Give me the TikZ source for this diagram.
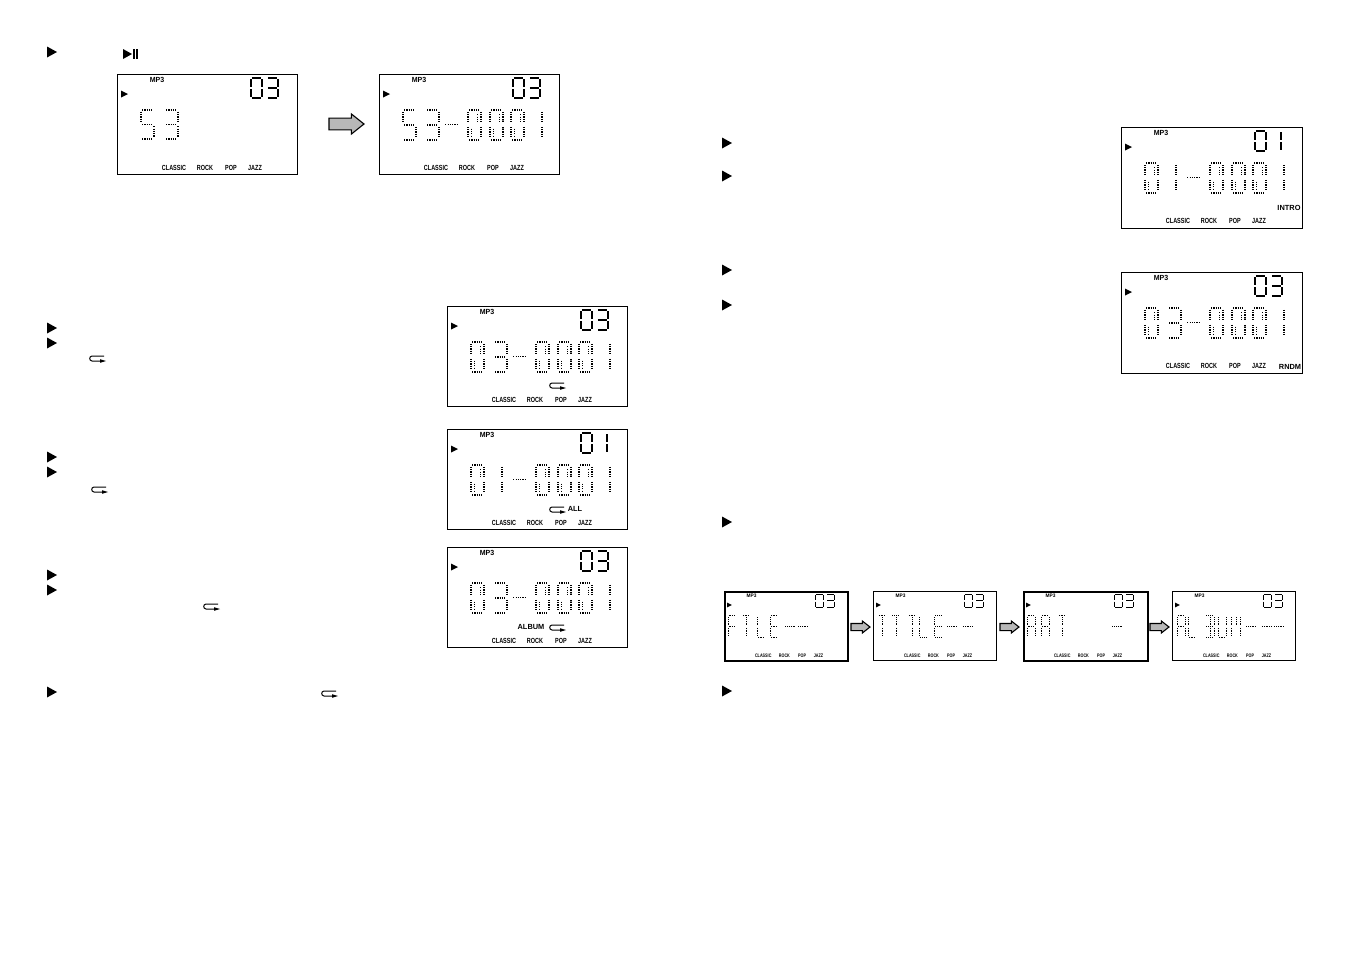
\documentclass[tikz,border=0pt]{standalone}
\usepackage{fontspec}
\setmainfont{Liberation Sans}
\usetikzlibrary{shapes.arrows}
% unit-square seven-segment outlines plus inner strokes
\def\sga{(.08,0)--(.92,0)}
\def\sgb{(1,.06)--(1,.44)}
\def\sgc{(1,.56)--(1,.94)}
\def\sgd{(.08,1)--(.92,1)}
\def\sge{(0,.56)--(0,.94)}
\def\sgf{(0,.06)--(0,.44)}
\def\sgg{(.08,.5)--(.92,.5)}
\def\sgh{(.72,.14)--(.72,.4)}
\def\sgi{(.25,.62)--(.25,.88)}
\def\sgj{(.5,.06)--(.5,.44)}
\def\sgk{(.5,.56)--(.5,.94)}
\newcommand{\dg}[6]{\begin{scope}[shift={(#1,#2)},xscale=#3,yscale=#4]
  \edef\lst{#5}
  \foreach \s in \lst {\edef\p{\csname sg\s\endcsname}\draw[#6] \p;}
\end{scope}}
\tikzset{
  dotseg/.style={line width=.65pt,dash pattern=on .6pt off .55pt},
  solseg/.style={line width=.65pt},
  lbl/.style={font=\bfseries\fontsize{3.7}{4}\selectfont,inner sep=0pt,transform shape},
  band/.style={lbl,xscale=.74},
  framebox/.style={draw=black,fill=white,rectangle,inner sep=0pt,outer sep=0pt,line width=.55pt},
  framethick/.style={framebox,line width=1pt},
  gray arrow/.style={single arrow,draw=black,fill=black!28,line width=.55pt,inner sep=0pt,outer sep=0pt,text width=0pt,text depth=0pt,anchor=tail},
  bigarrow/.style={gray arrow,text height=5.3pt,minimum height=17.5pt,single arrow head extend=2.1pt,single arrow tip angle=77},
  smallarrow/.style={gray arrow,text height=3pt,minimum height=9.5pt,single arrow head extend=1.2pt,single arrow tip angle=76}
}
% zero, five, three with the LCD's dotted strokes
\def\Dz{a,b,c,d,e,f,h,i}
\def\Dfive{a,f,g,c,d}
\def\Dthree{a,b,g,c,d}
\def\Done{b,c}
\newcommand{\bul}[2]{\fill (#1-5,#2-5.5)--(#1+5,#2)--(#1-5,#2+5.5)--cycle;}
\newcommand{\loopi}[2]{%
  \draw[line width=.5pt] (#1+15,#2)--(#1+3,#2) .. controls (#1,#2) and (#1,#2+5) .. (#1+3,#2+5)--(#1+12,#2+5);
  \fill (#1+11,#2+3.2)--(#1+17,#2+5)--(#1+11,#2+6.8)--cycle;}
% common panel content: name, label y etc.
\newcommand{\base}[3]{%
  \node[lbl,xscale=.95] (#1-mp3) at (39,5) {MP3};
  \fill (3,15.5)--(10,19)--(3,22.5)--cycle;
  \dg{133}{3}{11}{20}{a,b,c,d,e,f}{solseg}
  \ifnum#2=1 \dg{148}{3}{11}{20}{b,c}{solseg}\else \dg{149}{3}{11}{20}{a,b,c,d,g}{solseg}\fi
  \node[band] (#1-classic) at (56,93) {CLASSIC};
  \node[band] (#1-rock) at (87,93) {ROCK};
  \node[band] (#1-pop) at (113,93) {POP};
  \node[band] (#1-jazz) at (137,93) {JAZZ};}
\newcommand{\tail}{%
  \dg{64}{35}{16}{29}{g}{dotseg}
  \dg{88}{35}{13}{30}{\Dz}{dotseg}
  \dg{110}{35}{13}{30}{\Dz}{dotseg}
  \dg{131}{35}{13}{30}{\Dz}{dotseg}
  \dg{149}{35}{13}{30}{\Done}{dotseg}
  \fill (123,45) circle (.8);
  \fill (123,53) circle (.8);}
\newcommand{\lcd}[7]{% name x y w h nodestyle scopeopts (body follows)
  \node[#6,minimum width=#4*.5pt,minimum height=#5*.5pt,anchor=north west] (#1) at (#2-.2,#3-.2) {};
  \begin{scope}[shift={(#2,#3)},#7]}
\begin{document}
\begin{tikzpicture}[x=.5pt,y=-.5pt]
\useasboundingbox[fill=white] (0,0) rectangle (1351,954);
% bullets
\foreach \y in {52,328,343,457,472,575,590,692} {\bul{52}{\y}}
\foreach \y in {143,176,270,305,522,691} {\bul{727}{\y}}
% play/pause
\fill (123,49)--(132,54)--(123,59)--cycle;
\fill (133,49) rectangle (134.5,59);
\fill (136,49) rectangle (138,59);
% free loop icons
\loopi{89}{356}
\loopi{91}{487}
\loopi{203}{604}
\loopi{321}{691}

\lcd{pa}{118}{75}{180}{100}{framebox}{}
  \base{pa}{3}{}
  \dg{23}{35}{13}{29}{\Dfive}{dotseg}
  \dg{47}{35}{13}{29}{\Dthree}{dotseg}
\end{scope}
\lcd{pb}{380}{75}{180}{100}{framebox}{}
  \base{pb}{3}{}
  \dg{23}{35}{13}{30}{\Dfive}{dotseg}
  \dg{46}{35}{13}{30}{\Dthree}{dotseg}
  \tail
\end{scope}
\lcd{pc}{448}{307}{180}{100}{framebox}{}
  \base{pc}{3}{}
  \dg{23}{35}{13}{30}{\Dz}{dotseg}
  \dg{46}{35}{13}{30}{\Dthree}{dotseg}
  \tail
  \loopi{101}{76}
\end{scope}
\lcd{pd}{448}{430}{180}{100}{framebox}{}
  \base{pd}{1}{}
  \dg{23}{35}{13}{30}{\Dz}{dotseg}
  \dg{41}{35}{13}{30}{\Done}{dotseg}
  \tail
  \loopi{101}{77}
  \node[lbl] (pd-all) at (127,79) {ALL};
\end{scope}
\lcd{pe}{448}{548}{180}{100}{framebox}{}
  \base{pe}{3}{}
  \dg{23}{35}{13}{30}{\Dz}{dotseg}
  \dg{46}{35}{13}{30}{\Dthree}{dotseg}
  \tail
  \node[lbl] (pe-album) at (83,79) {ALBUM};
  \loopi{101}{77}
\end{scope}
\lcd{pf}{1122}{128}{181}{101}{framebox}{}
  \base{pf}{1}{}
  \dg{23}{35}{13}{30}{\Dz}{dotseg}
  \dg{41}{35}{13}{30}{\Done}{dotseg}
  \tail
  \node[lbl] (pf-intro) at (167,80) {INTRO};
\end{scope}
\lcd{pg}{1122}{273}{181}{101}{framebox}{}
  \base{pg}{3}{}
  \dg{23}{35}{13}{30}{\Dz}{dotseg}
  \dg{46}{35}{13}{30}{\Dthree}{dotseg}
  \tail
  \node[lbl] (pg-rndm) at (168,94) {RNDM};
\end{scope}

\tikzset{smallp/.style={scale=.683,dotseg/.style={line width=.42pt,dash pattern=on .45pt off .45pt},solseg/.style={line width=.5pt}}}
\lcd{ph}{725}{592}{123}{69}{framethick}{smallp}
  \base{ph}{3}{}
  \dg{4.4}{35}{12.5}{31}{a,f,g,e}{dotseg}
  \dg{25}{35}{12.5}{31}{a,j,k}{dotseg}
  \dg{47}{35}{12.5}{31}{f,e,d}{dotseg}
  \dg{66}{35}{12.5}{31}{a,f,g,e,d}{dotseg}
  \dg{87}{35}{16}{31}{g}{dotseg}
  \dg{106}{35}{16}{31}{g}{dotseg}
\end{scope}
\lcd{pi}{874}{592}{123}{69}{framebox}{smallp}
  \base{pi}{3}{}
  \dg{6}{35}{12.5}{31}{a,j,k}{dotseg}
  \dg{26}{35}{12.5}{31}{a,j,k}{dotseg}
  \dg{50}{35}{12.5}{31}{a,j,k}{dotseg}
  \dg{67}{35}{12.5}{31}{f,e,d}{dotseg}
  \dg{89}{35}{12.5}{31}{a,f,g,e,d}{dotseg}
  \dg{106}{35}{16}{31}{g}{dotseg}
  \dg{129}{35}{16}{31}{g}{dotseg}
\end{scope}
\lcd{pj}{1024}{592}{124}{69}{framethick}{smallp}
  \base{pj}{3}{}
  \dg{4.4}{35}{12.5}{31}{a,b,c,e,f,g}{dotseg}
  \dg{25}{35}{12.5}{31}{a,b,c,e,f,g}{dotseg}
  \dg{50}{35}{12.5}{31}{a,j,k}{dotseg}
  \dg{128}{35}{16}{31}{g}{dotseg}
\end{scope}
\lcd{pk}{1173}{592}{123}{69}{framebox}{smallp}
  \base{pk}{3}{}
  \dg{6}{35}{12.5}{31}{a,b,c,e,f,g}{dotseg}
  \dg{22}{35}{12.5}{31}{f,e,d}{dotseg}
  \dg{48}{35}{12.5}{31}{a,b,c,d,j,k,g}{dotseg}
  \dg{66}{35}{12.5}{31}{b,c,d,f,e}{dotseg}
  \dg{86}{35}{12.5}{31}{f,e,b,c,j}{dotseg}
  \dg{106}{35}{16}{31}{g}{dotseg}
  \dg{129}{35}{16}{31}{g}{dotseg}
  \dg{147}{35}{16}{31}{g}{dotseg}
\end{scope}

% block arrows
\node[bigarrow] (arrow-ab) at (329,124) {};
\node[smallarrow] (arrow-hi) at (851,627) {};
\node[smallarrow] (arrow-ij) at (1000,627) {};
\node[smallarrow] (arrow-jk) at (1150,627) {};
\end{tikzpicture}
\end{document}
